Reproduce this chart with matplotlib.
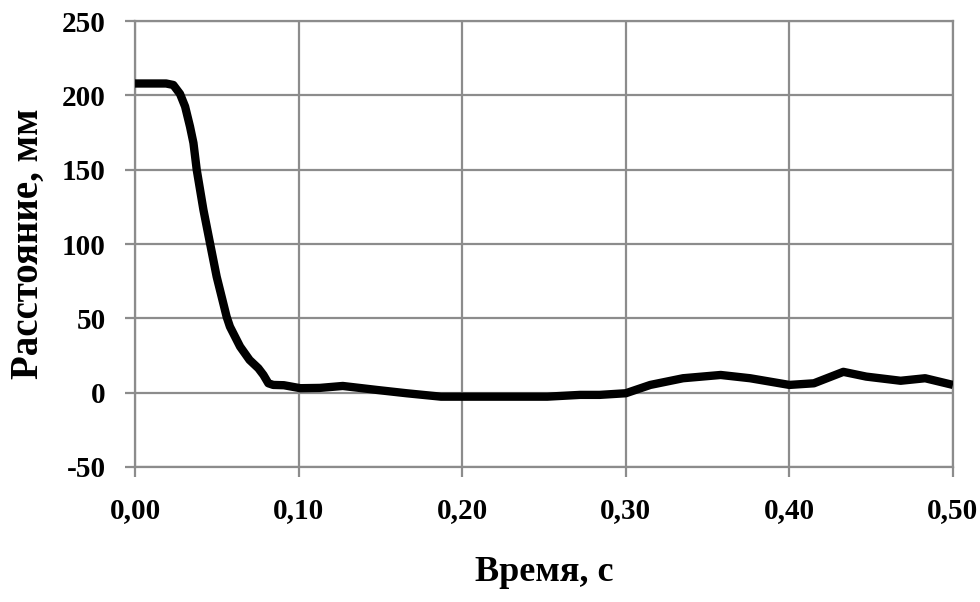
import numpy as np
import matplotlib.pyplot as plt
from matplotlib.ticker import FuncFormatter

# данные
t = [0.0, 0.010, 0.019, 0.0234, 0.0275, 0.0306, 0.0336, 0.0357, 0.0377, 0.0418, 0.0458,
     0.0499, 0.056, 0.058, 0.0642, 0.070, 0.0754, 0.0785, 0.0815, 0.0845, 0.091, 0.101,
     0.113, 0.127, 0.148, 0.166, 0.187, 0.200, 0.225, 0.252, 0.272, 0.284, 0.300,
     0.315, 0.335, 0.358, 0.376, 0.400, 0.415, 0.433, 0.447, 0.468, 0.483, 0.500]
dist = [208, 208, 208, 207, 201, 192.5, 179, 168, 150, 123, 100.7,
        78, 51, 44.4, 31, 22, 16.4, 11.9, 6.3, 5.2, 5.0, 3,
        3.2, 4.5, 1.8, -0.4, -2.7, -2.7, -2.7, -2.7, -1.5, -1.5, -0.4,
        5.2, 9.7, 11.9, 9.7, 5.2, 6.3, 14, 10.8, 8, 9.7, 5.2]

xticks = [0.0, 0.1, 0.2, 0.3, 0.4, 0.5]
yticks = [-50, 0, 50, 100, 150, 200, 250]

plt.rcParams['font.family'] = ['Liberation Serif', 'DejaVu Serif']
plt.rcParams['font.weight'] = 'bold'
plt.rcParams['axes.unicode_minus'] = False

fig = plt.figure(figsize=(9.8, 6.02), dpi=100)
ax = fig.add_axes([0.1378, 0.2243, 0.8346, 0.7407])

ax.plot(t, dist, color='black', lw=6, solid_capstyle='butt', solid_joinstyle='round', zorder=3)

ax.set_xlim(0, 0.5)
ax.set_ylim(-50, 250)
ax.set_xticks(xticks)
ax.set_yticks(yticks)
ax.xaxis.set_major_formatter(FuncFormatter(lambda v, p: ('%.2f' % v).replace('.', ',')))
ax.grid(True, color='#8c8c8c', lw=1.6)
for s in ax.spines.values():
    s.set_color('#8c8c8c')
    s.set_linewidth(1.6)
ax.tick_params(direction='out', length=7, width=1.6, color='#8c8c8c', labelsize=21)
ax.tick_params(axis='y', pad=14)
ax.tick_params(axis='x', pad=15)
for lab in ax.get_xticklabels() + ax.get_yticklabels():
    lab.set_fontweight('bold')

ax.set_xlabel('Время, с', fontsize=26, fontweight='bold')
ax.xaxis.set_label_coords(0.5, -0.20)
ax.set_ylabel('Расстояние, мм', fontsize=28, fontweight='bold')
ax.yaxis.set_label_coords(-0.108, 0.5)

fig.savefig('out.png', dpi=100)
